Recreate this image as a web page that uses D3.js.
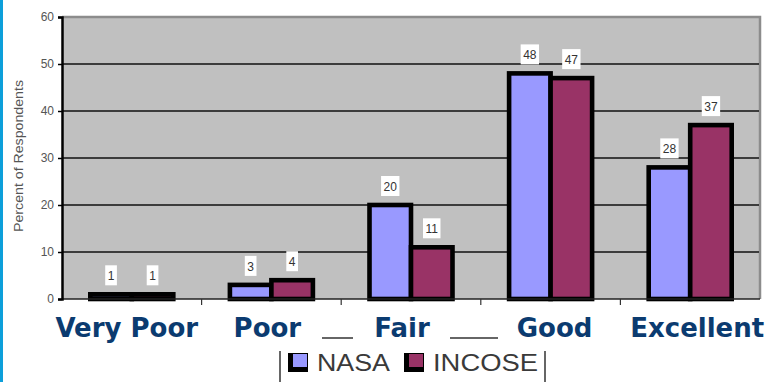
<!DOCTYPE html>
<html>
<head>
<meta charset="utf-8">
<script src="https://cdn.jsdelivr.net/npm/d3@7"></script>
<style>
  html, body { margin: 0; padding: 0; background: #ffffff; }
  svg { display: block; }
</style>
</head>
<body>
<svg id="chart" width="769" height="382"></svg>
<script>
// Survey ratings by organisation (percent of respondents)
const categories = ["Very Poor", "Poor", "Fair", "Good", "Excellent"];
const seriesNames = ["NASA", "INCOSE"];
const nasaValues = [1, 3, 20, 48, 28];
const incoseValues = [1, 4, 11, 47, 37];
const yTicks = [0, 10, 20, 30, 40, 50, 60];
const yTitle = "Percent of Respondents";

const seriesColors = { NASA: "#9999ff", INCOSE: "#993366" };

const svg = d3.select("#chart");
const W = 769, H = 382;
const plot = { left: 62, right: 760, top: 17, bottom: 299 };

// accent strip on the left edge
svg.append("rect").attr("x", 0).attr("y", 0).attr("width", 3).attr("height", H).attr("fill", "#0c9fda");

const x0 = d3.scaleBand().domain(categories).range([plot.left, plot.right]).padding(0);
const x1 = d3.scaleBand().domain(seriesNames).range([0, x0.bandwidth()]).paddingInner(0).paddingOuter(0.682);
const y = d3.scaleLinear().domain([0, 60]).range([plot.bottom, plot.top]);

// plot background
svg.append("rect")
  .attr("x", plot.left).attr("y", plot.top)
  .attr("width", plot.right - plot.left).attr("height", plot.bottom - plot.top)
  .attr("fill", "#c0c0c0");

// top and right frame
svg.append("path")
  .attr("d", `M${plot.left},${plot.top}H${plot.right}V${plot.bottom}`)
  .attr("fill", "none").attr("stroke", "#8c8c8c").attr("stroke-width", 2.5);

// horizontal gridlines
svg.append("g").selectAll("line")
  .data(yTicks.filter(t => t > 0 && t < 60))
  .join("line")
  .attr("x1", plot.left).attr("x2", plot.right - 1)
  .attr("y1", d => y(d)).attr("y2", d => y(d))
  .attr("stroke", "#111").attr("stroke-width", 1.5);

// bars
const data = categories.map((c, i) => ({ cat: c, values: [
  { s: "NASA", v: nasaValues[i] },
  { s: "INCOSE", v: incoseValues[i] }
]}));

const groups = svg.append("g").selectAll("g")
  .data(data).join("g")
  .attr("transform", d => `translate(${x0(d.cat)},0)`);

groups.selectAll("rect")
  .data(d => d.values).join("rect")
  .attr("x", d => x1(d.s))
  .attr("y", d => y(d.v))
  .attr("width", x1.bandwidth())
  .attr("height", d => y(0) - y(d.v))
  .attr("fill", d => seriesColors[d.s])
  .attr("stroke", "#000").attr("stroke-width", 4.6);

// value labels on white boxes
const labelGroups = groups.selectAll("g.vl")
  .data(d => d.values).join("g").attr("class", "vl");

labelGroups.each(function(d) {
  const g = d3.select(this);
  const cx = x1(d.s) + x1.bandwidth() / 2;
  const bottom = y(d.v) - 9;
  const t = g.append("text")
    .attr("x", cx).attr("y", bottom - 5)
    .attr("text-anchor", "middle")
    .attr("font-family", "Liberation Sans, Arial, sans-serif")
    .attr("font-size", 12)
    .attr("fill", "#333")
    .text(d.v);
  const w = t.node().getComputedTextLength() + 5;
  g.insert("rect", "text")
    .attr("x", cx - w / 2).attr("y", bottom - 20)
    .attr("width", w).attr("height", 20)
    .attr("fill", "#ffffff");
});

// x axis line and category ticks
svg.append("line")
  .attr("x1", plot.left).attr("x2", plot.right)
  .attr("y1", plot.bottom).attr("y2", plot.bottom)
  .attr("stroke", "#222").attr("stroke-width", 1.5);

svg.append("g").selectAll("line")
  .data(categories.slice(1))
  .join("line")
  .attr("x1", d => x0(d)).attr("x2", d => x0(d))
  .attr("y1", plot.bottom).attr("y2", plot.bottom + 6)
  .attr("stroke", "#333").attr("stroke-width", 1.2);

// y axis
const yAxis = d3.axisLeft(y).tickValues(yTicks).tickSize(4).tickPadding(4);
const ya = svg.append("g").attr("transform", `translate(${plot.left},0)`).call(yAxis);
ya.select(".domain").attr("stroke", "#000").attr("stroke-width", 2.5);
ya.selectAll(".tick line").attr("stroke", "#000").attr("stroke-width", 1.5);
ya.selectAll(".tick text")
  .attr("font-family", "Liberation Sans, Arial, sans-serif")
  .attr("font-size", 12)
  .attr("fill", "#555");

// y axis title
svg.append("text")
  .attr("transform", "translate(23,156) rotate(-90)")
  .attr("text-anchor", "middle")
  .attr("font-family", "Liberation Sans, Arial, sans-serif")
  .attr("font-size", 12)
  .attr("fill", "#555")
  .attr("textLength", 152)
  .attr("lengthAdjust", "spacingAndGlyphs")
  .text(yTitle);

// legend frame (partly hidden behind the category captions)
const legendFrame = svg.append("g").attr("stroke", "#333").attr("stroke-width", 1.5);
legendFrame.append("line").attr("x1", 280).attr("x2", 280).attr("y1", 351).attr("y2", H);
legendFrame.append("line").attr("x1", 545).attr("x2", 545).attr("y1", 351).attr("y2", H);
legendFrame.append("line").attr("x1", 322).attr("x2", 353).attr("y1", 338).attr("y2", 338);
legendFrame.append("line").attr("x1", 450).attr("x2", 498).attr("y1", 338).attr("y2", 338);

// legend entries
const legendX = { NASA: 288, INCOSE: 404 };
const legendTextW = { NASA: 73, INCOSE: 105 };
seriesNames.forEach(s => {
  const lx = legendX[s];
  svg.append("rect").attr("x", lx).attr("y", 353).attr("width", 20).attr("height", 19).attr("fill", "#000");
  svg.append("rect").attr("x", lx + 5).attr("y", 354).attr("width", 14).attr("height", 13)
    .attr("fill", seriesColors[s]);
  svg.append("text")
    .attr("x", lx + 29).attr("y", 371)
    .attr("font-family", "Liberation Sans, Arial, sans-serif")
    .attr("font-size", 23)
    .attr("fill", "#3a3a3a")
    .attr("textLength", legendTextW[s])
    .attr("lengthAdjust", "spacingAndGlyphs")
    .text(s);
});

// category captions
const captionShift = [-5, -4, -9, 4, 7];
svg.append("g").selectAll("text")
  .data(categories)
  .join("text")
  .attr("x", (d, i) => x0(d) + x0.bandwidth() / 2 + captionShift[i])
  .attr("y", 337)
  .attr("text-anchor", "middle")
  .attr("font-family", "DejaVu Sans, Verdana, sans-serif")
  .attr("font-weight", "bold")
  .attr("font-size", 26)
  .attr("fill", "#0b3b70")
  .text(d => d);
</script>
</body>
</html>
